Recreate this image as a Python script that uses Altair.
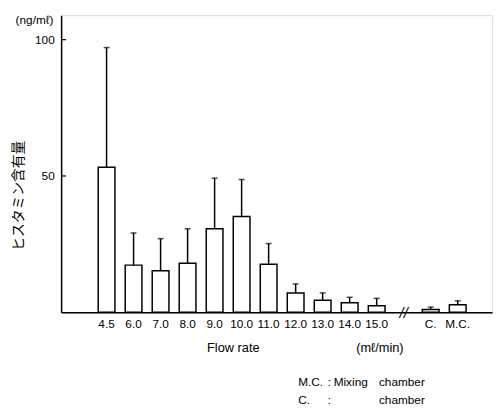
import altair as alt
import pandas as pd

# ---- data ----
labels = ["4.5", "6.0", "7.0", "8.0", "9.0", "10.0", "11.0", "12.0", "13.0", "14.0", "15.0", "C.", "M.C."]
positions = [1, 2, 3, 4, 5, 6, 7, 8, 9, 10, 11, 13, 14]
means = [53.2, 17.3, 15.2, 18.0, 30.6, 35.1, 17.6, 7.1, 4.4, 3.5, 2.4, 1.0, 2.8]
sds = [43.9, 11.8, 11.8, 12.6, 18.6, 13.6, 7.6, 3.3, 2.7, 2.0, 2.7, 0.9, 1.4]
break_pos = [12]
y_ticks = [50, 100]

df = pd.DataFrame({"pos": positions, "label": labels, "mean": means, "sd": sds})
df["top"] = df["mean"] + df["sd"]

NARROW = "Liberation Sans Narrow, Liberation Sans, Arial, sans-serif"
SANS = "Liberation Sans, Arial, sans-serif"
JP = "Noto Sans CJK JP"

xscale = alt.Scale(domain=[-0.5, 15.09], nice=False, zero=False)
yscale = alt.Scale(domain=[0, 109], nice=False)

x_enc = alt.X("pos:Q", scale=xscale,
              axis=alt.Axis(title=None, labels=False, ticks=False, grid=False,
                            domainColor="black", domainWidth=1.5))
y_enc = alt.Y("mean:Q", scale=yscale,
              axis=alt.Axis(title="ヒスタミン含有量", values=y_ticks, grid=False, ticks=False,
                            labelPadding=7, labelFont=NARROW, labelFontSize=12,
                            labelColor="black", domainColor="black", domainWidth=1.5,
                            titleFont=JP, titleFontSize=14, titleFontWeight="normal",
                            titleColor="black", titleAngle=270, titleX=-43, titleY=183,
                            titleAlign="center", titleBaseline="middle"))

base = alt.Chart(df)

bars = base.mark_bar(fill="white", stroke="black", strokeWidth=1.5, size=17).encode(
    x=x_enc, y=y_enc)

err = base.mark_rule(color="black", strokeWidth=1.5).encode(
    x="pos:Q", y="mean:Q", y2="top:Q")

caps = base.mark_tick(orient="horizontal", color="black", size=6, thickness=1.5).encode(
    x="pos:Q", y="top:Q")

xlabels = base.mark_text(font=NARROW, fontSize=12, color="black", baseline="middle",
                         align="center").encode(
    x="pos:Q", y=alt.value(313.5), text="label:N")

ytick_df = pd.DataFrame({"v": y_ticks})
yticks = alt.Chart(ytick_df).mark_rule(color="black", strokeWidth=1.2).encode(
    y=alt.Y("v:Q", scale=yscale), x=alt.value(0), x2=alt.value(5))

brk = alt.Chart(pd.DataFrame({"pos": break_pos, "t": ["//"]})).mark_text(
    font=SANS, fontSize=15, fontStyle="italic", color="black", baseline="middle",
    align="center").encode(x=alt.X("pos:Q", scale=xscale), y=alt.value(302.5), text="t:N")


def note(text, x, y, align="center", font=SANS, size=12):
    return alt.Chart(alt.Data(values=[{}])).mark_text(
        font=font, fontSize=size, color="black", align=align, baseline="middle",
        x=x, y=y).encode(text=alt.value(text))


notes = [
    note("(ng/mℓ)", -27, 5, size=12, font=NARROW),
    note("Flow rate", 175, 338, size=13),
    note("(mℓ/min)", 324, 338, size=13),
    note("M.C.", 241, 373, align="left"),
    note(":", 271, 373, align="left"),
    note("Mixing", 277, 373, align="left"),
    note("chamber", 323, 373, align="left"),
    note("C.", 241, 391, align="left"),
    note(":", 271, 391, align="left"),
    note("chamber", 323, 391, align="left"),
]

chart = alt.layer(bars, err, caps, xlabels, yticks, brk, *notes).properties(
    width=438, height=302,
    autosize=alt.AutoSizeParams(type="none"),
    padding={"left": 54, "top": 4, "right": 4, "bottom": 92},
).configure_view(stroke=None).configure(background="white")

chart.save("out.html", embed_options={"renderer": "svg", "actions": False})
